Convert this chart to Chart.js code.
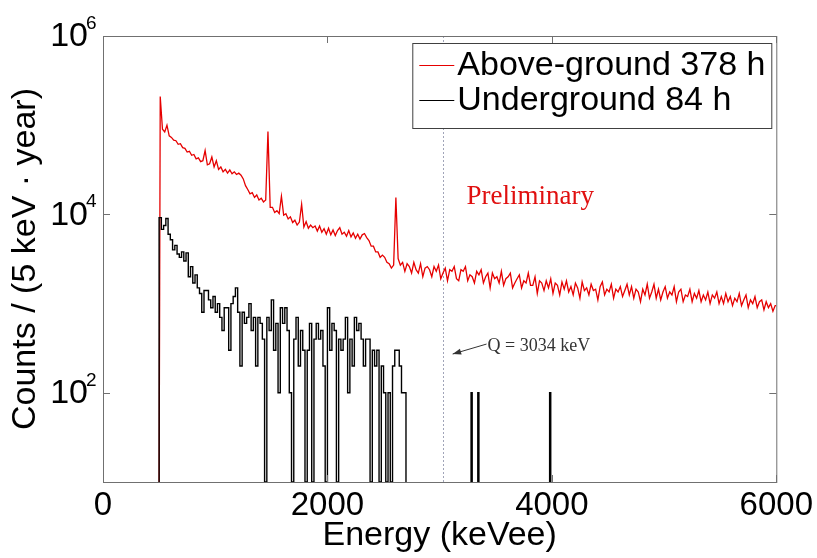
<!DOCTYPE html>
<html>
<head>
<meta charset="utf-8">
<title>Energy spectrum</title>
<script src="https://cdn.jsdelivr.net/npm/chart.js@4"></script>
<style>
  body { margin: 0; background: #fff; }
  canvas { display: block; }
</style>
</head>
<body>
<canvas id="spectrum" width="817" height="558"></canvas>
<script>
// counts / (5 keV · year) in 20 keV bins starting at 500 keV
const binWidth = 20;
const aboveStart = 500;
const aboveCounts = [
  210000, 90000, 84000, 100000, 76000, 73000, 68000, 67000, 61000, 62000,
  56000, 55000, 50000, 51000, 46000, 47000, 42000, 43000, 39000, 40000,
  52000, 36000, 37000, 44000, 34000, 40000, 32000, 34000, 30000, 32000,
  29000, 31500, 28500, 30000, 28000, 29000, 27500, 25000, 21000, 19000,
  17000, 17500, 15500, 16500, 14500, 15200, 13800, 14500, 85000, 12000,
  12000, 10500, 11000, 10200, 16000, 9800, 10200, 8900, 9400, 8100,
  8600, 7600, 8200, 13000, 7200, 8300, 7000, 7600, 7100, 7400,
  6500, 7400, 6300, 6900, 6000, 7000, 5900, 6700, 5800, 6600,
  7100, 6000, 6300, 5700, 6600, 5600, 6200, 5400, 6000, 5300,
  5900, 6100, 5500, 5100, 4400, 4400, 3800, 3800, 3300, 3500,
  3300, 2900, 2800, 2500, 2700, 15500, 3200, 2700, 2900, 2300,
  2800, 2600, 2200, 2900, 2400, 2200, 2800, 2000, 2500, 2600,
  2400, 2000, 2600, 2300, 2700, 1900, 2200, 2500, 1800, 2400,
  2300, 2600, 1900, 1800, 2400, 2300, 2600, 1800, 2100, 2000,
  1700, 2300, 2100, 2400, 1700, 2000, 2200, 1500, 2200, 1900,
  2000, 1700, 2300, 1600, 1900, 2000, 2200, 1500, 1700, 1900,
  2100, 1500, 1800, 1700, 2200, 1600, 1600, 2000, 1300, 1800,
  1700, 1400, 1800, 1500, 1900, 1300, 1700, 1600, 1250, 1750,
  1450, 1800, 1350, 1550, 1250, 1700, 1500, 1150, 1750, 1400,
  1500, 1250, 1650, 1400, 1450, 1100, 1550, 1750, 1250, 1450,
  1350, 1650, 1150, 1450, 1350, 1550, 1200, 1400, 1650, 1250,
  1550, 1150, 1450, 1350, 1050, 1450, 1250, 1650, 1150, 1350,
  1650, 1150, 1450, 1100, 1350, 1550, 1150, 1350, 1250, 1550,
  1050, 1350, 1450, 1050, 1250, 1200, 1450, 1050, 1300, 1150,
  1400, 1050, 1250, 1100, 1350, 1000, 1250, 1150, 1350, 1000,
  1200, 1000, 1300, 1050, 1200, 950, 1150, 1050, 1300, 950,
  1100, 1250, 900, 1100, 1000, 1200, 900, 1050, 1100, 850,
  1050, 900, 1000, 820, 950
];
const underStart = 500;
const underCounts = [
  9200, 6800, 7500, 9000, 6000, 5200, 4000, 4500, 3600, 3300,
  3800, 3000, 3700, 2000, 2600, 1700, 2100, 1500, 1300, 800,
  1400, 1400, 1100, 900, 1200, 800, 1000, 700, 500, 900,
  900, 300, 1000, 1200, 1500, 800, 200, 800, 600, 700,
  1000, 500, 700, 200, 700, 600, 400, 0, 700, 500,
  1100, 300, 600, 100, 900, 600, 900, 500, 100, 0,
  400, 700, 200, 500, 300, 0, 300, 600, 0, 400,
  600, 400, 500, 200, 0, 900, 300, 600, 500, 0,
  400, 300, 400, 700, 100, 400, 200, 700, 500, 600,
  400, 200, 400, 400, 0, 300, 200, 300, 0, 200,
  100, 0, 100, 0, 200, 300, 300, 200, 100, 100
];
// single underground events above the end of the main spectrum
const lateWidth = 10;
const underLateEnergy = [3280, 3340, 3980];
const underLateCounts = [100, 100, 100];

const seriesLabels = ["Above-ground 378 h", "Underground 84 h"];
const xTicks = [0, 2000, 4000, 6000];
const yTicks = [1e2, 1e4, 1e6];
const yExponents = ["2", "4", "6"];
const qValue = 3034;
const yFloor = 10;

const sans = '"Liberation Sans", Arial, sans-serif';
const serif = '"Liberation Serif", "Times New Roman", serif';

// fine-binned spectrum: a line through the bin centres, rising from the floor at the threshold
function centrePoints(start, counts) {
  const pts = [{ x: start, y: yFloor }];
  counts.forEach((c, i) => pts.push({ x: start + (i + 0.5) * binWidth, y: c }));
  pts.push({ x: start + counts.length * binWidth, y: counts[counts.length - 1] });
  return pts;
}

// histogram outline: flat top over each bin, zero bins sit on the axis floor
function histPoints(start, counts) {
  const pts = [{ x: start, y: yFloor }];
  counts.forEach((c, i) => {
    const y = c > 0 ? c : yFloor;
    pts.push({ x: start + i * binWidth, y: y }, { x: start + (i + 1) * binWidth, y: y });
  });
  pts.push({ x: start + counts.length * binWidth, y: yFloor });
  return pts;
}

const abovePts = centrePoints(aboveStart, aboveCounts);
const underPts = histPoints(underStart, underCounts);
underLateEnergy.forEach((e, i) => {
  underPts.push({ x: e - 1, y: null });
  underPts.push({ x: e, y: yFloor }, { x: e, y: underLateCounts[i] },
    { x: e + lateWidth, y: underLateCounts[i] }, { x: e + lateWidth, y: yFloor });
});

const framePlugin = {
  id: 'frame',
  beforeDatasetsDraw(chart) {
    const { ctx, chartArea: a, scales: { x } } = chart;
    const qx = Math.round(x.getPixelForValue(qValue)) + 0.5;
    ctx.save();
    ctx.strokeStyle = '#a0a4b8';
    ctx.lineWidth = 1;
    ctx.setLineDash([2, 2]);
    ctx.beginPath();
    ctx.moveTo(qx, a.top);
    ctx.lineTo(qx, a.bottom);
    ctx.stroke();
    ctx.restore();
  },
  afterDatasetsDraw(chart) {
    const { ctx, chartArea: a, scales: { x, y } } = chart;
    ctx.save();

    // box and inward ticks
    ctx.strokeStyle = '#707070';
    ctx.lineWidth = 1;
    ctx.strokeRect(a.left + 0.5, a.top + 0.5, a.right - a.left, a.bottom - a.top);
    ctx.beginPath();
    xTicks.forEach(v => {
      const px = Math.round(x.getPixelForValue(v)) + 0.5;
      ctx.moveTo(px, a.bottom); ctx.lineTo(px, a.bottom - 7);
      ctx.moveTo(px, a.top); ctx.lineTo(px, a.top + 7);
    });
    yTicks.forEach(v => {
      const py = Math.round(y.getPixelForValue(v)) + 0.5;
      ctx.moveTo(a.left, py); ctx.lineTo(a.left + 7, py);
      ctx.moveTo(a.right, py); ctx.lineTo(a.right - 7, py);
    });
    ctx.stroke();

    // y tick labels as 10 with a raised exponent
    ctx.fillStyle = '#000';
    yTicks.forEach((v, i) => {
      const py = y.getPixelForValue(v);
      ctx.font = '34px ' + sans;
      ctx.textAlign = 'right';
      ctx.textBaseline = 'middle';
      ctx.fillText('10', 88, py + 1);
      ctx.font = '19px ' + sans;
      ctx.textAlign = 'left';
      ctx.textBaseline = 'alphabetic';
      ctx.fillText(yExponents[i], 86, py - 7);
    });

    // annotations
    ctx.fillStyle = '#e01010';
    ctx.font = '27px ' + serif;
    ctx.fillText('Preliminary', x.getPixelForValue(3240), y.getPixelForValue(13100));

    ctx.fillStyle = '#333';
    ctx.font = '18px ' + serif;
    ctx.fillText('Q = ' + qValue + ' keV', x.getPixelForValue(3427), y.getPixelForValue(294));

    const x0 = x.getPixelForValue(3418), y0 = y.getPixelForValue(352);
    const x1 = x.getPixelForValue(3116), y1 = y.getPixelForValue(272);
    const ang = Math.atan2(y1 - y0, x1 - x0);
    ctx.strokeStyle = '#333';
    ctx.beginPath();
    ctx.moveTo(x0, y0);
    ctx.lineTo(x1, y1);
    ctx.stroke();
    ctx.fillStyle = '#333';
    ctx.beginPath();
    ctx.moveTo(x1, y1);
    ctx.lineTo(x1 - 9 * Math.cos(ang - 0.35), y1 - 9 * Math.sin(ang - 0.35));
    ctx.lineTo(x1 - 9 * Math.cos(ang + 0.35), y1 - 9 * Math.sin(ang + 0.35));
    ctx.closePath();
    ctx.fill();

    // legend box in the top right corner
    const bw = 359, bh = 85;
    const bx = a.right - 5 - bw, by = a.top + 7;
    ctx.fillStyle = '#fff';
    ctx.fillRect(bx, by, bw, bh);
    ctx.strokeStyle = '#404040';
    ctx.lineWidth = 1;
    ctx.strokeRect(bx + 0.5, by + 0.5, bw, bh);
    chart.data.datasets.forEach((ds, i) => {
      const ly = by + 22 + i * 35;
      ctx.strokeStyle = ds.borderColor;
      ctx.beginPath();
      ctx.moveTo(bx + 7, ly + 0.5);
      ctx.lineTo(bx + 42, ly + 0.5);
      ctx.stroke();
      ctx.fillStyle = '#000';
      ctx.font = '34px ' + sans;
      ctx.textAlign = 'left';
      ctx.textBaseline = 'middle';
      ctx.fillText(ds.label, bx + 45, ly + 1);
    });

    ctx.restore();
  }
};

Chart.defaults.color = '#000';
Chart.defaults.font.family = sans;

new Chart(document.getElementById('spectrum'), {
  type: 'line',
  data: {
    datasets: [
      { label: seriesLabels[0], data: abovePts, borderColor: '#e60000', borderWidth: 1.3,
        pointRadius: 0, fill: false, tension: 0, order: 1 },
      { label: seriesLabels[1], data: underPts, borderColor: '#000', borderWidth: 1.4,
        pointRadius: 0, fill: false, tension: 0, spanGaps: false, order: 0 }
    ]
  },
  options: {
    responsive: false,
    animation: false,
    events: [],
    layout: { padding: { top: 36, right: 40, left: 0, bottom: 0 } },
    plugins: { legend: { display: false }, tooltip: { enabled: false } },
    scales: {
      x: {
        type: 'linear', min: 0, max: 6000,
        afterBuildTicks: s => { s.ticks = xTicks.map(v => ({ value: v })); },
        afterFit: s => { s.height = 76; },
        ticks: { font: { size: 33 }, padding: 4, maxRotation: 0, autoSkip: false, callback: v => String(v) },
        grid: { display: false, drawTicks: false },
        border: { display: false },
        title: { display: true, text: 'Energy (keVee)', font: { size: 34 }, padding: { top: 0, bottom: 2 } }
      },
      y: {
        type: 'logarithmic', min: yFloor, max: 1e6,
        afterBuildTicks: s => { s.ticks = yTicks.map(v => ({ value: v })); },
        afterFit: s => { s.width = 103; },
        ticks: { display: false },
        grid: { display: false, drawTicks: false },
        border: { display: false },
        title: { display: true, text: 'Counts / (5 keV · year)', font: { size: 34 }, padding: { top: 5, bottom: 0 } }
      }
    }
  },
  plugins: [framePlugin]
});
</script>
</body>
</html>
